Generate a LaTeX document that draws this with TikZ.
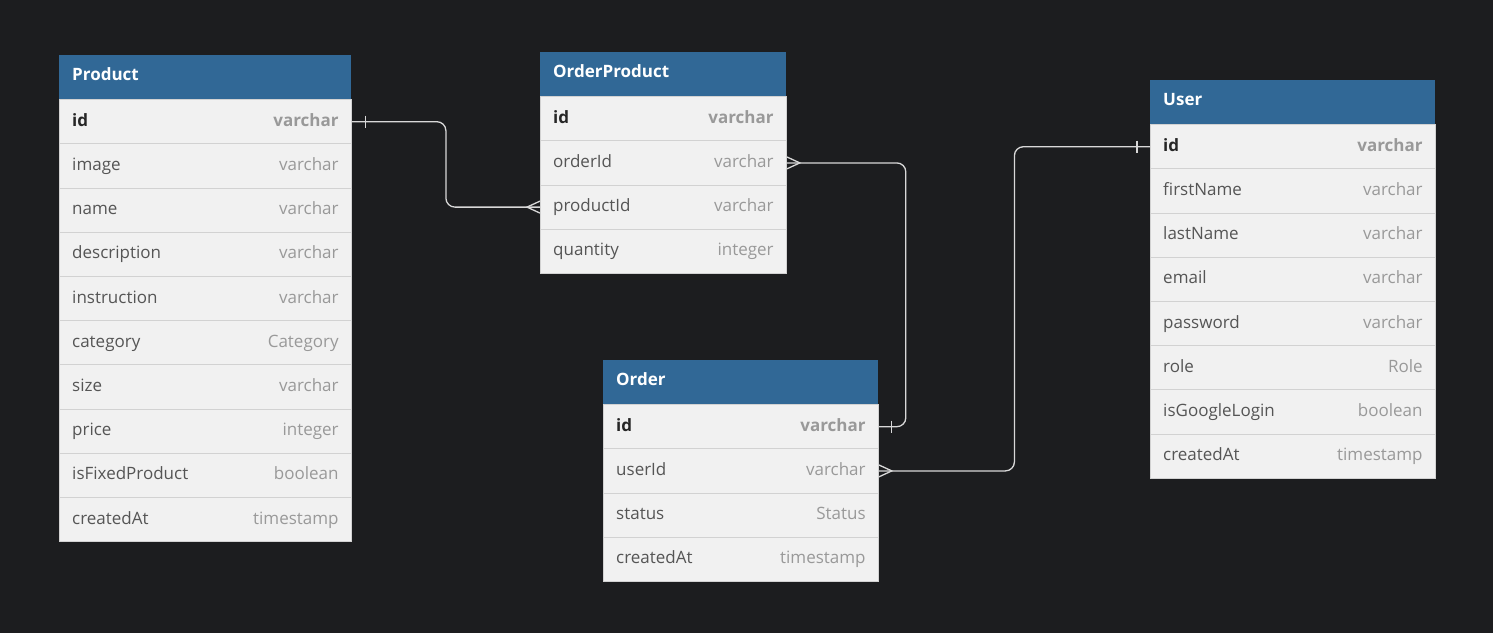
\documentclass[tikz,border=0pt]{standalone}
\usepackage{fontspec}
\setmainfont{Open Sans}
\usetikzlibrary{calc}

\definecolor{canvas}{HTML}{1C1D1F}
\definecolor{hdrblue}{HTML}{316896}
\definecolor{rowgray}{HTML}{F1F1F1}
\definecolor{sepgray}{HTML}{D2D2D2}
\definecolor{namegray}{HTML}{555555}
\definecolor{typegray}{HTML}{999999}
\definecolor{linkgray}{HTML}{D8D8D8}

\tikzset{
  hdr/.style={fill=hdrblue,anchor=north west,minimum height=44.2,inner sep=0},
  hdrtext/.style={anchor=base west,text=white,inner sep=0,font=\bfseries\fontsize{17}{19}\selectfont},
  fieldrow/.style={fill=rowgray,draw=sepgray,line width=.8pt,anchor=north west,minimum height=44.2,inner sep=0},
  fname/.style={anchor=base west,text=namegray,inner sep=0,font=\fontsize{17}{19}\selectfont},
  ftype/.style={anchor=base east,text=typegray,inner sep=0,font=\fontsize{17}{19}\selectfont},
  keyname/.style={fname,text=black!85,font=\bfseries\fontsize{17}{19}\selectfont},
  keytype/.style={ftype,font=\bfseries\fontsize{17}{19}\selectfont},
  link/.style={draw=linkgray,line width=1.3pt,rounded corners=9},
  endmark/.style={draw=linkgray,line width=1.3pt}
}

% #1 name, #2 x, #3 y, #4 width, #5 title, #6 fields
\newcommand{\erdtable}[6]{
  \node[hdr,minimum width=#4] (#1-h) at (#2,#3) {};
  \node[hdrtext] (#1-title) at ([xshift=13,yshift=-3.5]#1-h.west) {#5};
  \foreach \f/\t [count=\i] in {#6} {
    \node[fieldrow,minimum width=#4] (#1-\i) at (#2,#3+44.2*\i) {};
    \ifnum\i=1
      \node[keyname] (#1-\i-n) at ([xshift=13,yshift=-4.5]#1-\i.west) {\f};
      \node[keytype] (#1-\i-t) at ([xshift=-13,yshift=-4.5]#1-\i.east) {\t};
    \else
      \node[fname] (#1-\i-n) at ([xshift=13,yshift=-4.5]#1-\i.west) {\f};
      \node[ftype] (#1-\i-t) at ([xshift=-13,yshift=-4.5]#1-\i.east) {\t};
    \fi
  }
}

\begin{document}
\begin{tikzpicture}[x=1pt,y=-1pt]
\fill[canvas] (0,0) rectangle (1493,633);
\path[use as bounding box] (0,0) rectangle (1493,633);

\erdtable{product}{59}{55}{292}{Product}{id/varchar,image/varchar,name/varchar,description/varchar,instruction/varchar,category/Category,size/varchar,price/integer,isFixedProduct/boolean,createdAt/timestamp}
\erdtable{orderproduct}{540}{52}{246}{OrderProduct}{id/varchar,orderId/varchar,productId/varchar,quantity/integer}
\erdtable{order}{603}{360}{275}{Order}{id/varchar,userId/varchar,status/Status,createdAt/timestamp}
\erdtable{user}{1150}{80}{285}{User}{id/varchar,firstName/varchar,lastName/varchar,email/varchar,password/varchar,role/Role,isGoogleLogin/boolean,createdAt/timestamp}

% product.id -- orderproduct.productId
\draw[link] (product-1.east) -| ($(product-1.east)!.5!(orderproduct-3.west)$) |- (orderproduct-3.west);
\draw[endmark] ([xshift=14,yshift=6]product-1.east) -- ++(0,12);
\draw[endmark] ([yshift=-6]orderproduct-3.west) -- ([xshift=-13]orderproduct-3.west) -- ([yshift=6]orderproduct-3.west);

% order.id -- orderproduct.orderId
\draw[link] (orderproduct-2.east) -| ([xshift=27]order-1.east) -- (order-1.east);
\draw[endmark] ([yshift=-6]orderproduct-2.east) -- ([xshift=13]orderproduct-2.east) -- ([yshift=6]orderproduct-2.east);
\draw[endmark] ([xshift=13,yshift=6]order-1.east) -- ++(0,12);

% user.id -- order.userId
\draw[link] (order-2.east) -| ($(order-2.east)!.5!(user-1.west)$) |- (user-1.west);
\draw[endmark] ([yshift=-6]order-2.east) -- ([xshift=13]order-2.east) -- ([yshift=6]order-2.east);
\draw[endmark] ([xshift=-13,yshift=6]user-1.west) -- ++(0,12);
\end{tikzpicture}
\end{document}
